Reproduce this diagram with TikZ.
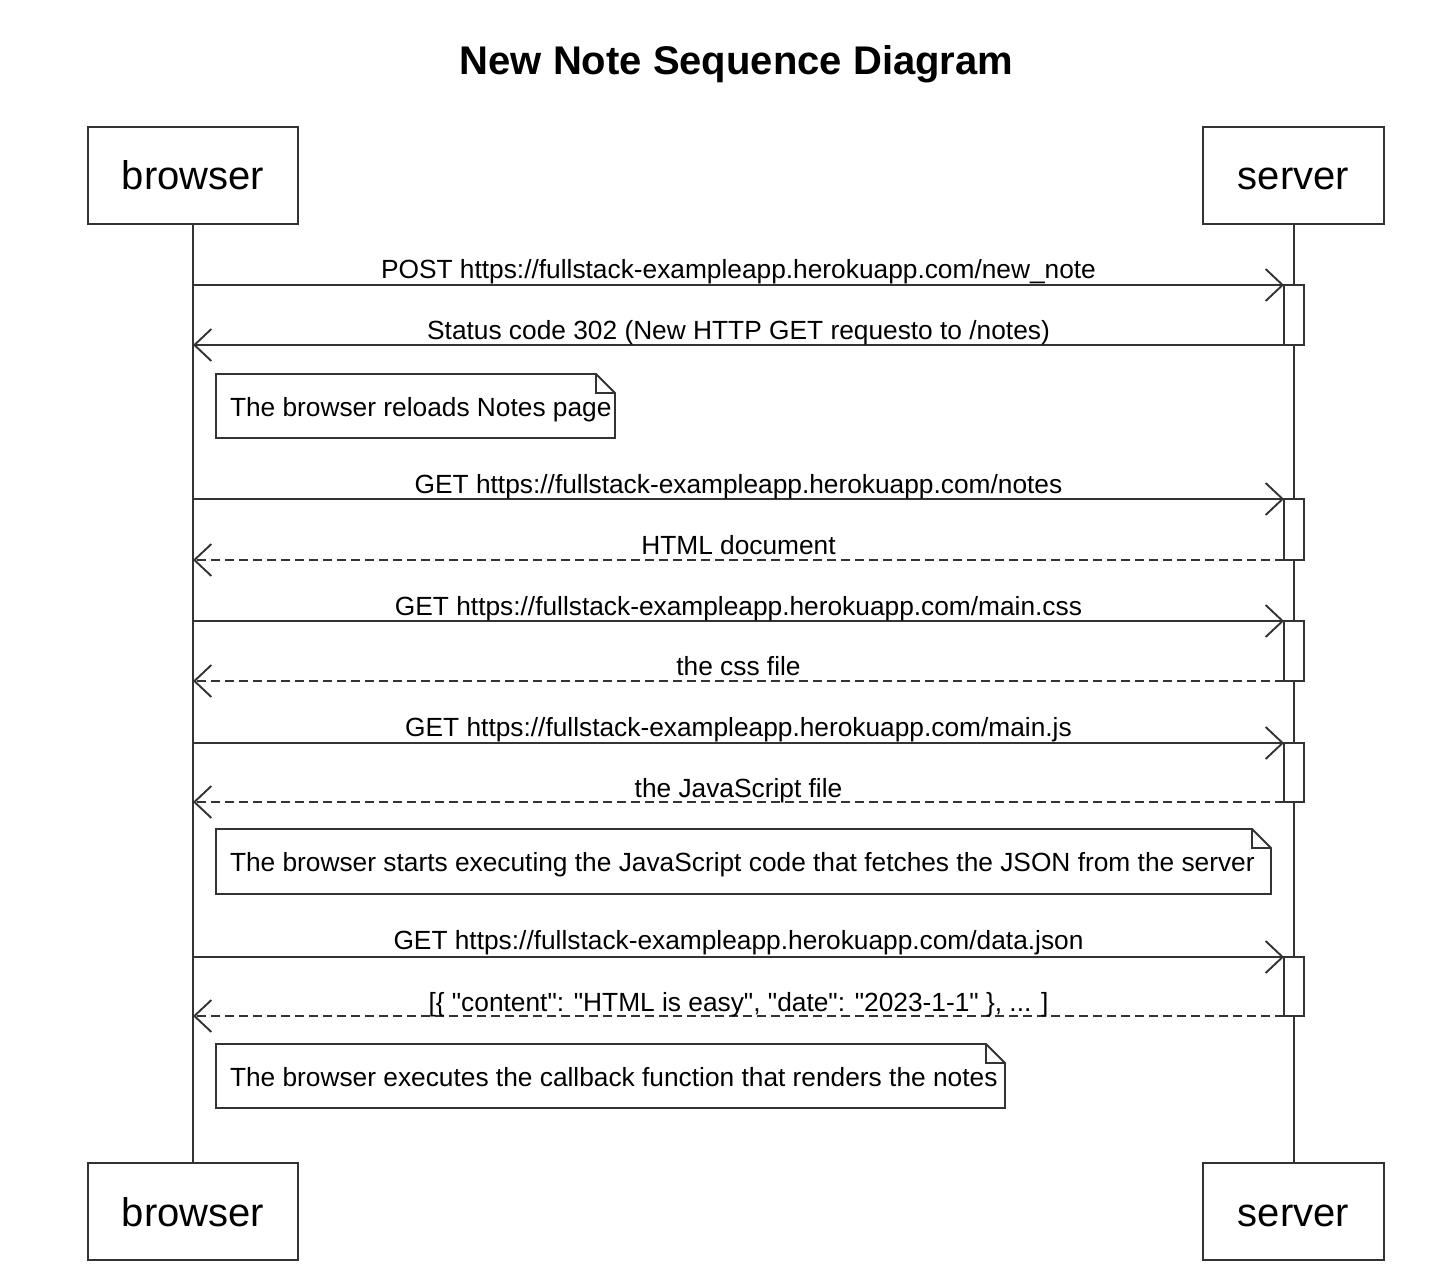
\documentclass[tikz,border=0pt]{standalone}
\usepackage{fontspec}
\setmainfont{Liberation Sans}
\usetikzlibrary{arrows.meta}
\definecolor{ink}{HTML}{333333}
\begin{document}
\begin{tikzpicture}[x=1pt,y=-1pt,line width=1.9pt,
  actor/.style={draw=ink,fill=white,outer sep=0pt,inner sep=0pt,text height=33pt,text depth=4pt,font=\fontsize{40}{44}\selectfont},
  act/.style={draw=ink,fill=white,outer sep=0pt,inner sep=0pt,minimum width=20pt},
  msg/.style={draw=ink,-{Straight Barb[length=17pt,width=32pt]}},
  ret/.style={msg,dash pattern=on 9pt off 5pt},
  lbl/.style={anchor=base,inner sep=0pt,font=\fontsize{26.3}{30}\selectfont},
  notetext/.style={inner sep=0pt,outer sep=0pt,anchor=west,text height=20pt,text depth=0pt,font=\fontsize{26.3}{30}\selectfont}]
\useasboundingbox (0,0) rectangle (1444,1284);
\fill[white] (0,0) rectangle (1444,1284);

\node[font=\fontsize{40}{44}\selectfont\bfseries] (title) at (736.5,64) {New Note Sequence Diagram};

% actors
\node[actor,minimum width=210pt,minimum height=97pt] (b1) at (193,175.5) {browser};
\node[actor,minimum width=181pt,minimum height=97pt] (s1) at (1293.5,175.5) {server};
\node[actor,minimum width=210pt,minimum height=97pt] (b2) at (193,1211.5) {browser};
\node[actor,minimum width=181pt,minimum height=97pt] (s2) at (1293.5,1211.5) {server};

% lifelines
\draw[ink] (b1.south) -- (b2.north);
\draw[ink] ([xshift=0.5pt]s1.south) -- ([xshift=0.5pt]s2.north);

% activations
\node[act,minimum height=60pt] (a1) at (1294,315) {};
\node[act,minimum height=61pt] (a2) at (1294,529.5) {};
\node[act,minimum height=60pt] (a3) at (1294,651) {};
\node[act,minimum height=59pt] (a4) at (1294,772.5) {};
\node[act,minimum height=59pt] (a5) at (1294,986.5) {};

% browser-side endpoints
\coordinate (p1) at (193,285);
\coordinate (p2) at (193,345);
\coordinate (p3) at (193,499);
\coordinate (p4) at (193,560);
\coordinate (p5) at (193,621);
\coordinate (p6) at (193,681);
\coordinate (p7) at (193,743);
\coordinate (p8) at (193,802);
\coordinate (p9) at (193,957);
\coordinate (p10) at (193,1016);

% messages
\draw[msg] (p1) -- (a1.north west);
\node[lbl] (l1) at (738.5,279) {POST https://fullstack-exampleapp.herokuapp.com/new\_note};
\draw[msg] (a1.south west) -- (p2);
\node[lbl] (l2) at (738.5,339) {Status code 302 (New HTTP GET requesto to /notes)};

\draw[msg] (p3) -- (a2.north west);
\node[lbl] (l3) at (738.5,493) {GET https://fullstack-exampleapp.herokuapp.com/notes};
\draw[ret] (a2.south west) -- (p4);
\node[lbl] (l4) at (738.5,554) {HTML document};

\draw[msg] (p5) -- (a3.north west);
\node[lbl] (l5) at (738.5,615) {GET https://fullstack-exampleapp.herokuapp.com/main.css};
\draw[ret] (a3.south west) -- (p6);
\node[lbl] (l6) at (738.5,675) {the css file};

\draw[msg] (p7) -- (a4.north west);
\node[lbl] (l7) at (738.5,736) {GET https://fullstack-exampleapp.herokuapp.com/main.js};
\draw[ret] (a4.south west) -- (p8);
\node[lbl] (l8) at (738.5,797) {the JavaScript file};

\draw[msg] (p9) -- (a5.north west);
\node[lbl] (l9) at (738.5,949) {GET https://fullstack-exampleapp.herokuapp.com/data.json};
\draw[ret] (a5.south west) -- (p10);
\node[lbl] (l10) at (738.5,1011) {[\{ \textquotedbl content\textquotedbl: \textquotedbl HTML is easy\textquotedbl, \textquotedbl date\textquotedbl: \textquotedbl 2023-1-1\textquotedbl\ \}, ... ]};

% notes
\foreach \n/\cx/\cy/\w/\h/\t in {
  n1/415.5/406/399/64/{The browser reloads Notes page},
  n2/743.5/861.5/1055/65/{The browser starts executing the JavaScript code that fetches the JSON from the server},
  n3/610.5/1076/789/64/{The browser executes the callback function that renders the notes}}{
  \node[inner sep=0pt,outer sep=0pt,minimum width=\w pt,minimum height=\h pt] (\n) at (\cx,\cy) {};
  \draw[ink,fill=white,line join=miter] (\n.north west) -- ([xshift=-19pt]\n.north east) -- ([yshift=-19pt]\n.north east) -- (\n.south east) -- (\n.south west) -- cycle;
  \draw[ink] ([xshift=-19pt]\n.north east) |- ([yshift=-19pt]\n.north east);
  \node[notetext] at ([xshift=14pt]\n.west) {\t};
}
\end{tikzpicture}
\end{document}
